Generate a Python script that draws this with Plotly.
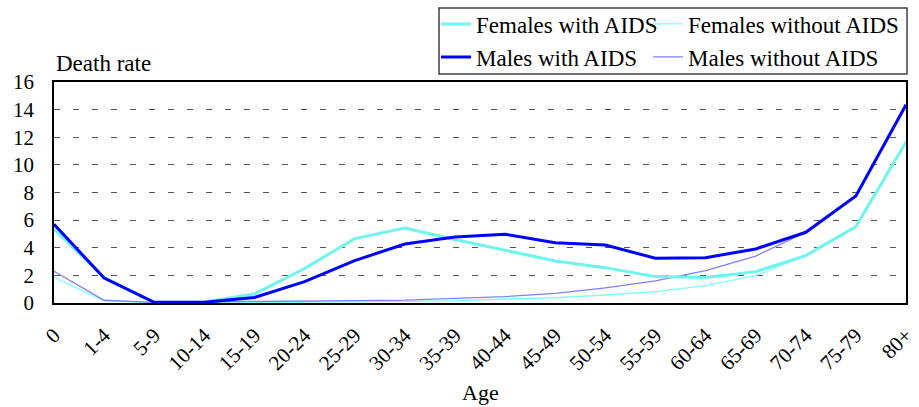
import plotly.graph_objects as go

# DATA

ages = ["0", "1-4", "5-9", "10-14", "15-19", "20-24", "25-29", "30-34", "35-39",
        "40-44", "45-49", "50-54", "55-59", "60-64", "65-69", "70-74", "75-79", "80+"]

females_aids = [5.35, 1.85, 0.05, 0.08, 0.65, 2.5, 4.66, 5.43, 4.6,
                3.84, 3.04, 2.56, 1.91, 1.84, 2.27, 3.43, 5.53, 11.65]
females_no_aids = [1.86, 0.15, 0.03, 0.03, 0.05, 0.07, 0.09, 0.12, 0.16,
                   0.29, 0.38, 0.58, 0.82, 1.25, 1.98, 3.43, 5.53, 11.65]
males_aids = [5.7, 1.8, 0.05, 0.05, 0.4, 1.55, 3.07, 4.27, 4.78,
              4.98, 4.37, 4.2, 3.24, 3.28, 3.91, 5.12, 7.75, 14.35]
males_no_aids = [2.3, 0.2, 0.05, 0.07, 0.1, 0.13, 0.17, 0.21, 0.32,
                 0.46, 0.7, 1.1, 1.6, 2.34, 3.4, 5.12, 7.75, 14.35]

y_ticks = [0, 2, 4, 6, 8, 10, 12, 14, 16]

FONT = "Liberation Serif"

fig = go.Figure()

# thin lines first so the thick ones sit on top; one small legend per entry
series = [
    ("Females without AIDS", females_no_aids, "#80fff8", 1.3, "legend2"),
    ("Males without AIDS", males_no_aids, "#8080ff", 1.3, "legend4"),
    ("Females with AIDS", females_aids, "#6ef5ec", 3, "legend"),
    ("Males with AIDS", males_aids, "#0000ff", 3, "legend3"),
]
for name, vals, color, width, lg in series:
    fig.add_trace(go.Scatter(x=ages, y=vals, name=name, mode="lines",
                             line=dict(color=color, width=width), legend=lg))

leg = dict(xanchor="left", yanchor="middle", itemwidth=30, borderwidth=0,
           bgcolor="rgba(0,0,0,0)", font=dict(size=23, family=FONT))

fig.update_layout(
    width=919, height=407,
    margin=dict(l=54, r=13, t=82, b=104, autoexpand=False),
    paper_bgcolor="white", plot_bgcolor="white",
    font=dict(family=FONT, size=23, color="black"),
    showlegend=True,
    legend=dict(x=0.4484, y=1.2624, **leg),
    legend2=dict(x=0.6972, y=1.2624, **leg),
    legend3=dict(x=0.4484, y=1.1131, **leg),
    legend4=dict(x=0.6972, y=1.1131, **leg),
    xaxis=dict(type="category", categoryorder="array", categoryarray=ages,
               range=[0, len(ages) - 1], tickangle=-45, showgrid=False,
               showline=True, linecolor="black", linewidth=1.5, mirror=True,
               ticks="", ticklabelstandoff=10,
               tickfont=dict(size=21, family=FONT)),
    yaxis=dict(range=[0, 16], tickvals=y_ticks, showgrid=True,
               gridcolor="#555555", griddash="6px,13px", gridwidth=1,
               showline=True, linecolor="black", linewidth=1.5, mirror=True,
               ticks="", zeroline=False, ticklabelstandoff=14,
               tickfont=dict(size=21, family=FONT)),
    annotations=[
        dict(text="Death rate", x=0, y=1.02, xref="paper", yref="paper",
             xanchor="left", yanchor="bottom", showarrow=False),
        dict(text="Age", x=0.5, y=-0.47, xref="paper", yref="paper",
             xanchor="center", yanchor="bottom", showarrow=False,
             font=dict(size=22)),
    ],
    shapes=[dict(type="rect", xref="paper", yref="paper",
                 x0=0.4519, x1=1.0012, y0=1.0362, y1=1.3348,
                 line=dict(color="#404040", width=1.5))],
)

fig.write_html("out.html", config={"displayModeBar": False},
               post_script="document.body.style.margin='0';")
